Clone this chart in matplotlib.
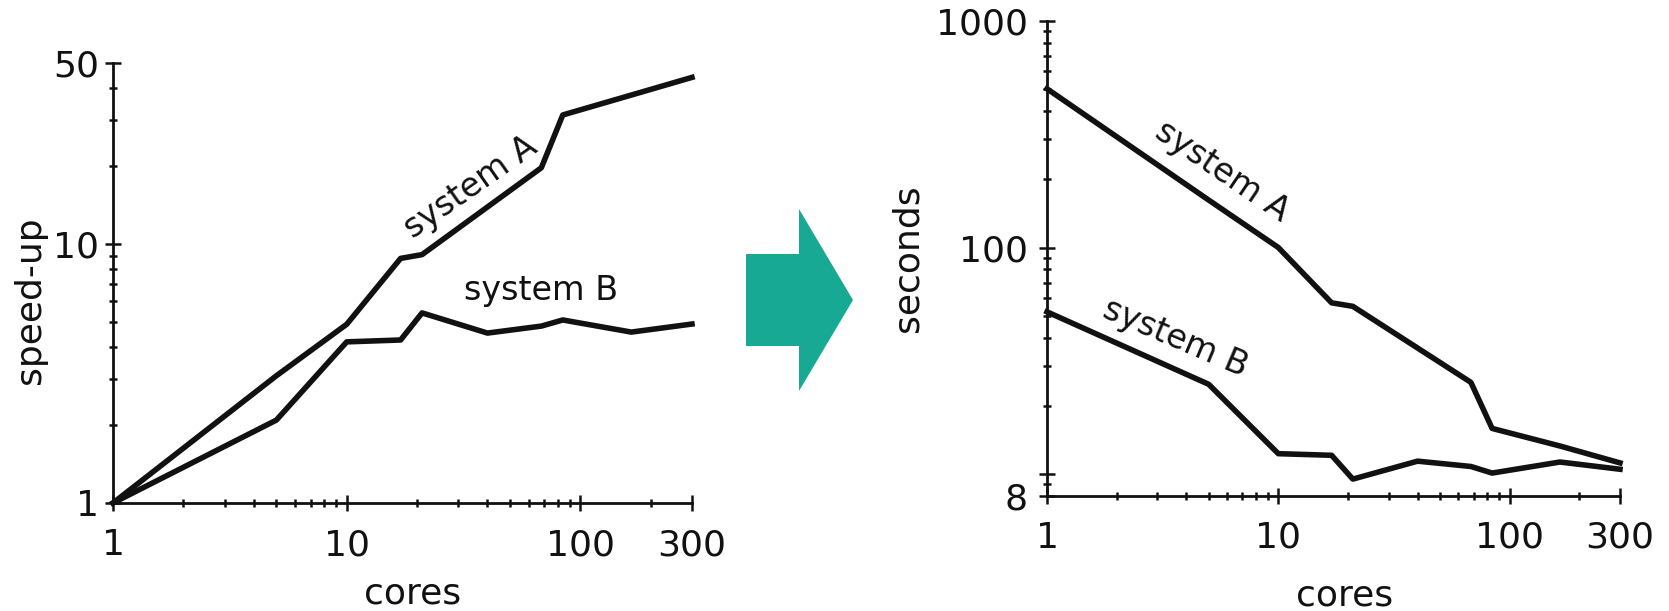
import matplotlib
matplotlib.use("Agg")
import matplotlib.pyplot as plt
from matplotlib.patches import Polygon

# data
cores = [1, 5, 10, 17, 21, 40, 68, 84, 165, 300]
speedup_a = [1, 3.1, 4.9, 8.8, 9.1, 13.9, 19.7, 31.5, 37.6, 44]
speedup_b = [1, 2.09, 4.19, 4.26, 5.42, 4.53, 4.82, 5.09, 4.57, 4.91]
seconds_a = [502, 162, 100, 57, 55, 36, 25.4, 15.9, 13.3, 11.2]
seconds_b = [52, 24.9, 12.3, 12.1, 9.5, 11.4, 10.8, 10.1, 11.3, 10.5]

x_major = [1, 10, 100, 300]
x_major_labels = ["1", "10", "100", "300"]
x_minor = [2, 3, 4, 5, 6, 7, 8, 9, 20, 30, 40, 50, 60, 70, 80, 90, 200]

speed_major = [1, 10, 50]
speed_major_labels = ["1", "10", "50"]
speed_minor = [2, 3, 4, 5, 6, 7, 8, 9, 20, 30, 40]

sec_major = [8, 10, 100, 1000]
sec_major_labels = ["8", "", "100", "1000"]
sec_minor = [9, 20, 30, 40, 50, 60, 70, 80, 90, 200, 300, 400, 500, 600, 700, 800, 900]

plt.rcParams["font.family"] = ["DejaVu Sans"]
INK = "#111111"
TEAL = "#17a994"
W, H = 1669, 611

fig = plt.figure(figsize=(W / 100, H / 100), dpi=100)
ax1 = fig.add_axes([113 / W, 1 - 503 / H, 579 / W, 440 / H])
ax2 = fig.add_axes([1047 / W, 1 - 496 / H, 573 / W, 475 / H])


def style_axes(ax, ymaj, ymaj_labels, ymin, ypad):
    ax.set_xscale("log")
    ax.set_yscale("log")
    for side in ("top", "right"):
        ax.spines[side].set_visible(False)
    for side in ("left", "bottom"):
        ax.spines[side].set_linewidth(2)
        ax.spines[side].set_color(INK)
    ax.set_xticks(x_major, x_major_labels)
    ax.set_xticks(x_minor, minor=True)
    ax.set_yticks(ymaj, ymaj_labels)
    ax.set_yticks(ymin, minor=True)
    ax.xaxis.set_minor_formatter(plt.NullFormatter())
    ax.yaxis.set_minor_formatter(plt.NullFormatter())
    ax.tick_params(which="both", direction="inout", width=1.8, color=INK,
                   labelsize=26, labelcolor=INK)
    ax.tick_params(which="major", length=12)
    ax.tick_params(which="minor", length=6)
    ax.tick_params(axis="x", which="major", pad=12)
    ax.tick_params(axis="y", which="major", pad=ypad)


# left: speed-up
ax1.plot(cores, speedup_a, color=INK, lw=4, clip_on=False)
ax1.plot(cores, speedup_b, color=INK, lw=4, clip_on=False)
style_axes(ax1, speed_major, speed_major_labels, speed_minor, ypad=4)
ax1.set_xlim(1, 300)
ax1.set_ylim(1, 50)
ax1.text(34, 16.6, "system A", fontsize=24, rotation=35, rotation_mode="anchor",
         ha="center", va="center", color=INK)
ax1.text(68, 6.6, "system B", fontsize=24, ha="center", va="center", color=INK)

# right: seconds
ax2.plot(cores, seconds_a, color=INK, lw=4, clip_on=False)
ax2.plot(cores, seconds_b, color=INK, lw=4, clip_on=False)
style_axes(ax2, sec_major, sec_major_labels, sec_minor, ypad=8)
ax2.set_xlim(1, 300)
ax2.set_ylim(8, 1000)
ax2.text(5.7, 216, "system A", fontsize=24, rotation=-34, rotation_mode="anchor",
         ha="center", va="center", color=INK)
ax2.text(3.6, 39.7, "system B", fontsize=24, rotation=-23, rotation_mode="anchor",
         ha="center", va="center", color=INK)

# axis labels
fig.text(30 / W, 1 - 300 / H, "speed-up", rotation=90, fontsize=26,
         ha="center", va="center", color=INK)
fig.text(907 / W, 1 - 258 / H, "seconds", rotation=90, fontsize=26,
         ha="center", va="center", color=INK)
fig.text(413 / W, 1 - 593 / H, "cores", fontsize=26, ha="center", va="center", color=INK)
fig.text(1345 / W, 1 - 595 / H, "cores", fontsize=26, ha="center", va="center", color=INK)

# teal arrow between the panels
arrow_px = [(746, 254), (799, 254), (799, 209), (853, 300),
            (799, 391), (799, 346), (746, 346)]
arrow = Polygon([(x / W, 1 - y / H) for x, y in arrow_px], closed=True,
                facecolor=TEAL, edgecolor="none", transform=fig.transFigure)
fig.patches.append(arrow)

fig.savefig("out.png", dpi=100)
plt.close(fig)
